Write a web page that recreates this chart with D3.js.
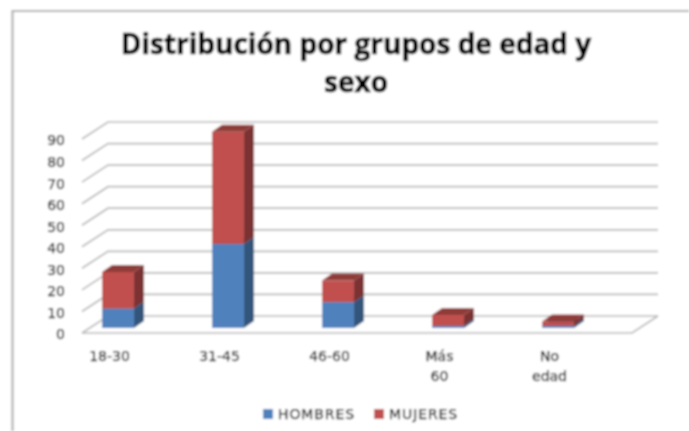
<!DOCTYPE html>
<html>
<head>
<meta charset="utf-8">
<script src="https://cdn.jsdelivr.net/npm/d3@7"></script>
<style>
  html, body { margin: 0; padding: 0; background: #fff; }
  svg { display: block; }
  text { font-family: "DejaVu Sans", sans-serif; fill: #111; }
</style>
</head>
<body>
<svg width="689" height="431"></svg>
<script>
"use strict";

const categories = ["18-30", "31-45", "46-60", "Más 60", "No edad"];
const hombres = [9, 39, 12, 1, 1];
const mujeres = [17, 52, 10, 5, 2];
const yTicks = [0, 10, 20, 30, 40, 50, 60, 70, 80, 90];
const seriesNames = ["HOMBRES", "MUJERES"];

const svg = d3.select("svg");
const root = svg.append("g").attr("filter", "url(#soft)");

svg.append("defs").append("filter")
  .attr("id", "soft")
  .attr("filterUnits", "userSpaceOnUse")
  .attr("x", 0).attr("y", 0)
  .attr("width", 689).attr("height", 431)
  .append("feGaussianBlur").attr("stdDeviation", 0.8); // por debajo de esto el navegador no difumina

// fondo blanco + borde del gráfico (solo arriba e izquierda)
root.append("rect").attr("width", 689).attr("height", 431).attr("fill", "#fff");
root.append("path")
  .attr("d", "M689,11H12.5V431")
  .attr("fill", "none").attr("stroke", "#b0b0b0").attr("stroke-width", 2.2);

// el plano frontal y el desplazamiento de la profundidad 3D
const y = d3.scaleLinear().domain([0, 90]).range([333, 139]);
const wallDx = 26, wallDy = -17;
const floorLeft = 82, floorRight = 632;
const barDx = 10, barDy = -7; // profundidad de cada columna
const barInset = -5; // las columnas arrancan un poco detras del borde frontal

const x = d3.scaleBand().domain(categories).range([63, 613]).paddingInner(0.71).paddingOuter(0.355);

// rejilla
const grid = root.append("g").attr("fill", "none").attr("stroke", "#b8b8b8").attr("stroke-width", 1.7);
yTicks.forEach((t) => {
  grid.append("path").attr("d", `M${floorLeft},${y(t)}l${wallDx},${wallDy}H${floorRight + wallDx}`);
});
grid.append("path").attr("d", `M${floorLeft},${y(0)}H${floorRight}l${wallDx},${wallDy}`);

// eje y
const yAxis = root.append("g")
  .attr("transform", `translate(${floorLeft - 12},1.5)`)
  .call(d3.axisLeft(y).tickValues(yTicks).tickSize(0).tickPadding(5));
yAxis.select(".domain").remove();
yAxis.selectAll("text")
  .style("font-size", "14px")
  .style("font-family", '"DejaVu Sans", sans-serif')
  .style("stroke", "#111").style("stroke-width", 0.25);

// columnas apiladas
const stack = d3.stack().keys(["h", "m"])(
  categories.map((c, i) => ({ c, h: hombres[i], m: mujeres[i] }))
);
const colors = [
  { front: "#4f81bd", side: "#31547c", top: "#3f6797" },
  { front: "#c0504d", side: "#7c3230", top: "#8f3b39" },
];

stack.forEach((s, k) => {
  const c = colors[k];
  const g = root.append("g");
  s.forEach((d) => {
    const x0 = x(d.data.c), x1 = x0 + x.bandwidth();
    const yA = y(d[0]) + barInset, yB = y(d[1]) + barInset;
    g.append("path")
      .attr("d", `M${x1},${yA}l${barDx},${barDy}V${yB + barDy}l${-barDx},${-barDy}Z`)
      .attr("fill", c.side);
    g.append("path")
      .attr("d", `M${x0},${yB}l${barDx},${barDy}H${x1 + barDx}l${-barDx},${-barDy}Z`)
      .attr("fill", c.top);
    g.append("rect")
      .attr("x", x0).attr("y", yB)
      .attr("width", x.bandwidth()).attr("height", yA - yB)
      .attr("fill", c.front);
  });
});

// etiquetas de categoria (las largas en dos lineas), un poco a la izquierda de la columna
const catLabels = root.append("g").selectAll("text").data(categories).enter().append("text")
  .attr("text-anchor", "middle")
  .style("font-size", "14px")
  .style("stroke", "#111").style("stroke-width", 0.25);
catLabels.each(function (d) {
  const cx = x(d) + x.bandwidth() / 2 - 8.5;
  d.split(" ").forEach((w, i) => {
    d3.select(this).append("tspan").attr("x", cx).attr("y", 361 + i * 20).text(w);
  });
});

// titulo
const title = root.append("g").attr("text-anchor", "middle");
["Distribución por grupos de edad y", "sexo"].forEach((t, i) => {
  title.append("text")
    .attr("x", 356).attr("y", 54 + i * 38)
    .style("font-family", '"Open Sans", sans-serif')
    .style("font-weight", 700)
    .style("font-size", "28px").style("fill", "#000")
    .style("stroke", "#000").style("stroke-width", 0.6)
    .text(t);
});

// leyenda
const legendX = [263, 374];
seriesNames.forEach((n, i) => {
  root.append("rect")
    .attr("x", legendX[i]).attr("y", 409)
    .attr("width", 10).attr("height", 10)
    .attr("fill", colors[i].front);
  root.append("text")
    .attr("x", legendX[i] + 15).attr("y", 419)
    .style("font-size", "14px")
    .style("letter-spacing", "0.9px")
    .style("stroke", "#111").style("stroke-width", 0.25)
    .text(n);
});
</script>
</body>
</html>
